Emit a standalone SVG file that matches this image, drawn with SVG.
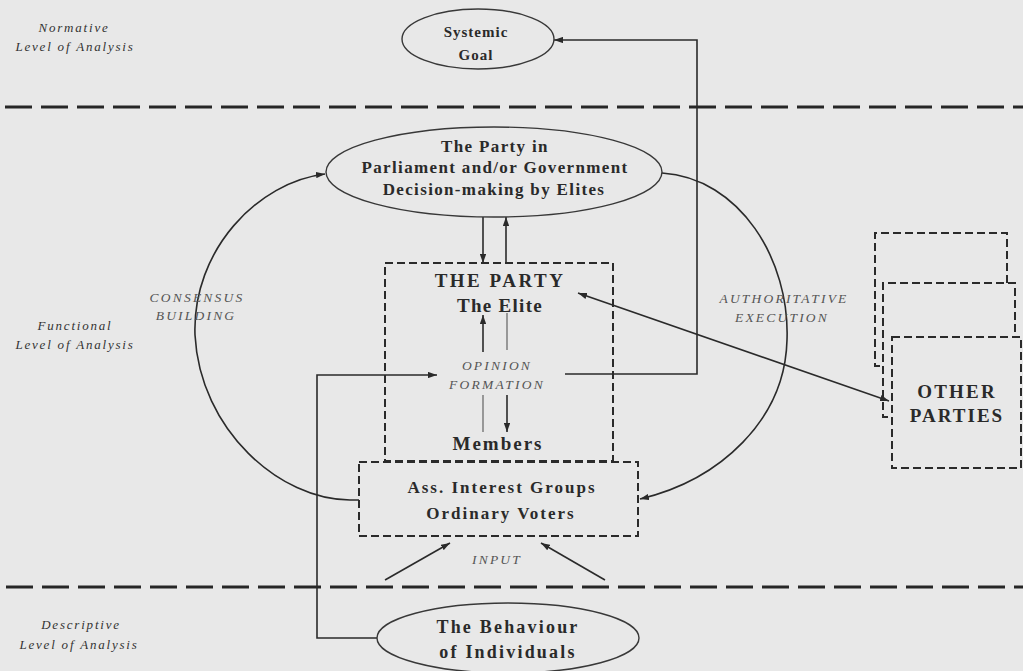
<svg xmlns="http://www.w3.org/2000/svg" width="1023" height="671" viewBox="0 0 1023 671">
  <defs>
    <marker id="arrow" viewBox="0 0 10 7" refX="10" refY="3.5" markerWidth="9" markerHeight="6.5" markerUnits="userSpaceOnUse" orient="auto-start-reverse">
      <path d="M0,0 L10,3.5 L0,7 z" fill="#2a2a2a"/>
    </marker>
    <style>
      .bg { fill: #e8e8e8; }
      .level { stroke: #262626; stroke-width: 3; stroke-dasharray: 27 9; fill: none; }
      .oval { fill: none; stroke: #383838; stroke-width: 1.4; }
      .box { fill: none; stroke: #2a2a2a; stroke-width: 2; stroke-dasharray: 8 4; }
      .link { fill: none; stroke: #2a2a2a; stroke-width: 1.6; }
      .thin { fill: none; stroke: #555; stroke-width: 1.1; }
      .node { font-family: "Liberation Serif", "Times New Roman", serif; font-weight: bold; fill: #2a2a2a; text-anchor: middle; }
      .side { font-family: "Liberation Serif", "Times New Roman", serif; font-style: italic; fill: #333; font-size: 13px; letter-spacing: 1.8px; text-anchor: middle; }
      .flow { font-family: "Liberation Serif", "Times New Roman", serif; font-style: italic; fill: #555; font-size: 13.5px; letter-spacing: 2.2px; text-anchor: middle; }
    </style>
  </defs>

  <rect class="bg" x="0" y="0" width="1023" height="671"/>

  <!-- levels of analysis -->
  <g id="levels">
    <line class="level" x1="5" y1="107" x2="1023" y2="107"/>
    <line class="level" x1="6" y1="587" x2="1023" y2="587"/>
    <text class="side" x="74" y="32">Normative</text>
    <text class="side" x="75" y="51">Level of Analysis</text>
    <text class="side" x="75" y="330">Functional</text>
    <text class="side" x="75" y="349">Level of Analysis</text>
    <text class="side" x="81" y="629">Descriptive</text>
    <text class="side" x="79" y="649">Level of Analysis</text>
  </g>

  <!-- connectors -->
  <g id="connectors">
    <!-- consensus building: voters up to parliament -->
    <path class="link" d="M359,500 L350,500 C280,500 200,430 195,335 C192,250 258,182 325,174" marker-end="url(#arrow)"/>
    <!-- authoritative execution: parliament down to voters -->
    <path class="link" d="M662,173 C740,178 790,260 787,340 C785,420 720,480 640,499" marker-end="url(#arrow)"/>
    <!-- parliament <-> party -->
    <line class="link" x1="483" y1="217" x2="483" y2="263" marker-end="url(#arrow)"/>
    <line class="link" x1="506" y1="263" x2="506" y2="217" marker-end="url(#arrow)"/>
    <!-- opinion formation inside the party -->
    <line class="link" x1="483" y1="352" x2="483" y2="315" marker-end="url(#arrow)"/>
    <line class="thin" x1="507" y1="313" x2="507" y2="350"/>
    <line class="thin" x1="483" y1="395" x2="483" y2="432"/>
    <line class="link" x1="507" y1="395" x2="507" y2="432" marker-end="url(#arrow)"/>
    <!-- individuals feed opinion formation, which feeds the systemic goal -->
    <path class="link" d="M377,638 L317,638 L317,375 L437,375" marker-end="url(#arrow)"/>
    <path class="link" d="M565,374 L697,374 L697,40 L554,40" marker-end="url(#arrow)"/>
    <!-- party <-> other parties -->
    <line class="link" x1="578" y1="293" x2="889" y2="401" marker-start="url(#arrow)" marker-end="url(#arrow)"/>
    <!-- input from individuals -->
    <line class="link" x1="385" y1="580" x2="450" y2="543" marker-end="url(#arrow)"/>
    <line class="link" x1="605" y1="580" x2="541" y2="543" marker-end="url(#arrow)"/>
    <text class="flow" x="197" y="302">CONSENSUS</text>
    <text class="flow" x="196" y="320">BUILDING</text>
    <text class="flow" x="784" y="303">AUTHORITATIVE</text>
    <text class="flow" x="782" y="322">EXECUTION</text>
    <text class="flow" x="497" y="370">OPINION</text>
    <text class="flow" x="497" y="389">FORMATION</text>
    <text class="flow" x="497" y="564">INPUT</text>
  </g>

  <g id="systemic-goal">
    <ellipse class="oval" cx="478" cy="39" rx="76" ry="30"/>
    <text class="node" x="476" y="37" font-size="15" letter-spacing="1">Systemic</text>
    <text class="node" x="476" y="60" font-size="15" letter-spacing="1">Goal</text>
  </g>

  <g id="party-in-parliament">
    <ellipse class="oval" cx="494" cy="172" rx="168" ry="45"/>
    <text class="node" x="495" y="152" font-size="17" letter-spacing="1.35">The Party in</text>
    <text class="node" x="495" y="173" font-size="17" letter-spacing="1.35">Parliament and/or Government</text>
    <text class="node" x="494" y="195" font-size="17" letter-spacing="1.35">Decision-making by Elites</text>
  </g>

  <g id="the-party">
    <rect class="box" x="385" y="263" width="228" height="198"/>
    <text class="node" x="500" y="287" font-size="19" letter-spacing="2.5">THE PARTY</text>
    <text class="node" x="500" y="312" font-size="19" letter-spacing="1.3">The Elite</text>
    <text class="node" x="498" y="450" font-size="19" letter-spacing="2">Members</text>
  </g>

  <g id="voters">
    <rect class="box" x="359" y="462" width="279" height="74"/>
    <text class="node" x="502" y="493" font-size="17" letter-spacing="2">Ass. Interest Groups</text>
    <text class="node" x="501" y="519" font-size="17" letter-spacing="2">Ordinary Voters</text>
  </g>

  <g id="other-parties">
    <path class="box" d="M880,366 L875,366 L875,233 L1007,233 L1007,283"/>
    <path class="box" d="M888,417 L883,417 L883,283 L1015,283 L1015,337"/>
    <rect class="box" x="892" y="337" width="129" height="131"/>
    <text class="node" x="957" y="398" font-size="19" letter-spacing="2.2">OTHER</text>
    <text class="node" x="957" y="422" font-size="19" letter-spacing="2">PARTIES</text>
  </g>

  <g id="individuals">
    <ellipse class="oval" cx="508" cy="638" rx="131" ry="35"/>
    <text class="node" x="508" y="633" font-size="18" letter-spacing="2.2">The Behaviour</text>
    <text class="node" x="508" y="658" font-size="18" letter-spacing="2.2">of Individuals</text>
  </g>
</svg>
